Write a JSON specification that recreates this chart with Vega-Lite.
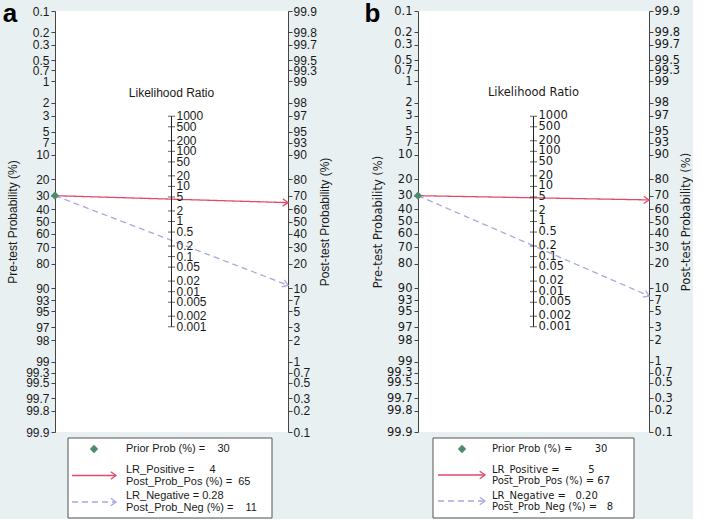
{
  "$schema": "https://vega.github.io/schema/vega-lite/v6.json",
  "background": "#e9f0f2",
  "padding": {"left": 2, "top": 1, "right": 0, "bottom": 0},
  "config": {"view": {"stroke": null, "fill": "white"}, "axis": {"grid": false}},
  "datasets": {
    "lines": [
      {"panel": "a", "series": "pos", "side": "pre", "prob": 30},
      {"panel": "a", "series": "pos", "side": "post", "prob": 65},
      {"panel": "a", "series": "neg", "side": "pre", "prob": 30},
      {"panel": "a", "series": "neg", "side": "post", "prob": 11},
      {"panel": "b", "series": "pos", "side": "pre", "prob": 30},
      {"panel": "b", "series": "pos", "side": "post", "prob": 67},
      {"panel": "b", "series": "neg", "side": "pre", "prob": 30},
      {"panel": "b", "series": "neg", "side": "post", "prob": 8}
    ],
    "lr": [
      {"lr": 1000}, {"lr": 500}, {"lr": 200}, {"lr": 100}, {"lr": 50}, {"lr": 20}, {"lr": 10}, {"lr": 5}, {"lr": 2}, {"lr": 1},
      {"lr": 0.5}, {"lr": 0.2}, {"lr": 0.1}, {"lr": 0.05}, {"lr": 0.02}, {"lr": 0.01}, {"lr": 0.005}, {"lr": 0.002}, {"lr": 0.001}
    ],
    "legend": [
      {"panel": "a", "item": "prior", "label": "Prior Prob (%) =\u00a0\u00a0\u00a0\u00a030"},
      {"panel": "a", "item": "pos", "label": "LR_Positive =\u00a0\u00a0\u00a0\u00a0\u00a04\nPost_Prob_Pos (%) =\u00a0\u00a065"},
      {"panel": "a", "item": "neg", "label": "LR_Negative =\u00a00.28\nPost_Prob_Neg (%) =\u00a0\u00a0\u00a0\u00a011"},
      {"panel": "b", "item": "prior", "label": "Prior Prob (%) =\u00a0\u00a0\u00a0\u00a0\u00a0\u00a0\u00a030"},
      {"panel": "b", "item": "pos", "label": "LR_Positive =\u00a0\u00a0\u00a0\u00a0\u00a0\u00a0\u00a0\u00a0\u00a05\nPost_Prob_Pos (%) =\u00a067"},
      {"panel": "b", "item": "neg", "label": "LR_Negative =\u00a0\u00a0\u00a00.20\nPost_Prob_Neg (%) =\u00a0\u00a0\u00a08"}
    ]
  },
  "spacing": 33,
  "hconcat": [
    {
      "spacing": -1,
      "vconcat": [
        {
          "width": 233,
          "height": 421,
          "title": {"text": "a", "anchor": "start", "frame": "bounds", "font": "Liberation Sans", "fontSize": 26, "fontWeight": "bold", "color": "#000", "offset": -10, "baseline": "alphabetic", "dx": -4, "dy": 33},
          "resolve": {"scale": {"y": "independent"}},
          "layer": [
            {
              "data": {"name": "lines"},
              "transform": [
                {"filter": "datum.panel === 'a'"},
                {"calculate": "datum.side === 'pre' ? log((100 - datum.prob) / datum.prob) : log(datum.prob / (100 - datum.prob))", "as": "v"}
              ],
              "encoding": {
                "x": {"field": "side", "type": "nominal", "scale": {"type": "point", "domain": ["pre", "LR", "post"], "padding": 0}, "axis": null},
                "y": {"field": "v", "type": "quantitative", "scale": {"domain": [-6.9068, 6.9068], "nice": false, "zero": false},
                  "axis": {"orient": "left", "values": [6.9068, 6.2126, 5.8061, 5.2933, 4.9548, 4.5951, 3.8918, 3.4761, 2.9444, 2.5867, 2.1972, 1.3863, 0.8473, 0.4055, 0, -0.4055, -0.8473, -1.3863, -2.1972, -2.5867, -2.9444, -3.4761, -3.8918, -4.5951, -4.9548, -5.2933, -5.8061, -6.2126, -6.9068],
                    "labelExpr": "format(100 / (1 + exp(datum.value)), '.1~f')",
                    "title": "Pre-test Probability (%)", "titleFont": "Liberation Sans", "titleFontSize": 12, "titleFontWeight": "normal", "titleColor": "#1a1a1a", "titlePadding": 6,
                    "labelFont": "Liberation Sans", "labelFontSize": 12, "labelColor": "#1a1a1a", "labelOverlap": false, "labelBound": false, "labelFlush": false, "labelPadding": 2,
                    "tickSize": 4, "tickColor": "#444", "domainColor": "#444"}}
              },
              "layer": [
                {"mark": {"type": "line", "strokeWidth": 1.3},
                  "encoding": {
                    "color": {"field": "series", "type": "nominal", "scale": {"domain": ["pos", "neg"], "range": ["#e34a6a", "#a9a6e0"]}, "legend": null},
                    "strokeDash": {"field": "series", "type": "nominal", "scale": {"domain": ["pos", "neg"], "range": [[1, 0], [6, 4]]}, "legend": null}
                  }},
                {"transform": [{"filter": "datum.series === 'pos' && datum.side === 'pre'"}],
                  "mark": {"type": "point", "shape": "diamond", "filled": true, "size": 70, "color": "#4d8a6c", "opacity": 1}}
              ]
            },
            {
              "data": {"name": "lines"},
              "transform": [
                {"filter": "datum.panel === 'a' && datum.side === 'post'"},
                {"calculate": "log(datum.prob / (100 - datum.prob))", "as": "v"}
              ],
              "encoding": {
                "x": {"field": "side", "type": "nominal", "scale": {"type": "point", "domain": ["pre", "LR", "post"], "padding": 0}, "axis": null},
                "y": {"field": "v", "type": "quantitative", "scale": {"domain": [-6.9068, 6.9068], "nice": false, "zero": false},
                  "axis": {"orient": "right", "values": [6.9068, 6.2126, 5.8061, 5.2933, 4.9548, 4.5951, 3.8918, 3.4761, 2.9444, 2.5867, 2.1972, 1.3863, 0.8473, 0.4055, 0, -0.4055, -0.8473, -1.3863, -2.1972, -2.5867, -2.9444, -3.4761, -3.8918, -4.5951, -4.9548, -5.2933, -5.8061, -6.2126, -6.9068],
                    "labelExpr": "format(100 / (1 + exp(-datum.value)), '.1~f')",
                    "title": "Post-test Probability (%)", "titleAngle": 270, "titleFont": "Liberation Sans", "titleFontSize": 12, "titleFontWeight": "normal", "titleColor": "#1a1a1a", "titlePadding": 15,
                    "labelFont": "Liberation Sans", "labelFontSize": 12, "labelColor": "#1a1a1a", "labelOverlap": false, "labelBound": false, "labelFlush": false, "labelPadding": 1,
                    "tickSize": 4, "tickColor": "#444", "domainColor": "#444"}}
              },
              "layer": [
                {"transform": [{"filter": "datum.series === 'pos'"}],
                  "mark": {"type": "point", "shape": "M-1,-0.7L0,0L-1,0.7", "filled": false, "size": 110, "strokeWidth": 1.3, "color": "#e34a6a", "angle": 1.7, "opacity": 1}},
                {"transform": [{"filter": "datum.series === 'neg'"}],
                  "mark": {"type": "point", "shape": "M-1,-0.7L0,0L-1,0.7", "filled": false, "size": 110, "strokeWidth": 1.3, "color": "#a9a6e0", "angle": 21, "opacity": 1}}
              ]
            },
            {
              "data": {"name": "lr"},
              "encoding": {
                "x": {"datum": "LR", "type": "nominal", "scale": {"type": "point", "domain": ["pre", "LR", "post"], "padding": 0}, "axis": null},
                "y": {"field": "lr", "type": "quantitative", "scale": {"type": "log", "domain": [0.000001002, 998000], "nice": false}, "axis": null}
              },
              "layer": [
                {"mark": {"type": "rule", "color": "#222", "strokeWidth": 1},
                  "encoding": {"y": {"aggregate": "min", "field": "lr", "type": "quantitative"}, "y2": {"aggregate": "max", "field": "lr"}}},
                {"mark": {"type": "tick", "orient": "horizontal", "size": 7, "thickness": 1, "color": "#222"}},
                {"mark": {"type": "text", "align": "left", "baseline": "middle", "dx": 5, "font": "Liberation Sans", "fontSize": 12, "color": "#1a1a1a"},
                  "encoding": {"text": {"field": "lr", "type": "quantitative", "format": "~g"}}},
                {"mark": {"type": "text", "align": "center", "baseline": "middle", "dy": -23, "font": "Liberation Sans", "fontSize": 12, "color": "#1a1a1a", "text": "Likelihood Ratio"},
                  "encoding": {"y": {"aggregate": "max", "field": "lr", "type": "quantitative"}}}
              ]
            }
          ]
        },
        {
          "width": 217,
          "height": 80,
          "view": {"stroke": null, "fill": "transparent"},
          "data": {"name": "legend"},
          "transform": [{"filter": "datum.panel === 'a'"}],
          "encoding": {
            "x": {"datum": "sym", "type": "nominal", "scale": {"type": "point", "domain": ["sym", "text"], "range": [39, 71], "padding": 0}, "axis": null},
            "y": {"field": "item", "type": "nominal", "scale": {"type": "point", "domain": ["prior", "pos", "neg"], "range": [11, 64], "padding": 0}, "axis": null}
          },
          "layer": [
            {"transform": [{"filter": "datum.item === 'prior'"}],
              "mark": {"type": "rect", "fill": "white", "stroke": "#555", "strokeWidth": 1, "xOffset": -26, "x2Offset": 178, "yOffset": -11, "y2Offset": 16},
              "encoding": {"x2": {"datum": "sym"}, "y2": {"datum": "neg"}}},
            {"transform": [{"filter": "datum.item === 'prior'"}],
              "mark": {"type": "text", "align": "left", "baseline": "middle", "font": "Liberation Sans", "fontSize": 11, "color": "#1a1a1a"},
              "encoding": {"x": {"datum": "text", "type": "nominal"}, "text": {"field": "label", "type": "nominal"}}},
            {"transform": [{"filter": "datum.item !== 'prior'"}],
              "mark": {"type": "text", "align": "left", "baseline": "middle", "lineBreak": "\n", "lineHeight": 12, "dy": -6, "font": "Liberation Sans", "fontSize": 11, "color": "#1a1a1a"},
              "encoding": {"x": {"datum": "text", "type": "nominal"}, "text": {"field": "label", "type": "nominal"}}},
            {"transform": [{"filter": "datum.item === 'prior'"}],
              "mark": {"type": "point", "shape": "diamond", "filled": true, "size": 70, "color": "#4d8a6c", "opacity": 1}},
            {"transform": [{"filter": "datum.item !== 'prior'"}],
              "mark": {"type": "rule", "strokeWidth": 1.3, "xOffset": -22, "x2Offset": 22},
              "encoding": {
                "x2": {"datum": "sym"},
                "color": {"field": "item", "type": "nominal", "scale": {"domain": ["pos", "neg"], "range": ["#e34a6a", "#a9a6e0"]}, "legend": null},
                "strokeDash": {"field": "item", "type": "nominal", "scale": {"domain": ["pos", "neg"], "range": [[1, 0], [6, 4]]}, "legend": null}
              }},
            {"transform": [{"filter": "datum.item !== 'prior'"}],
              "mark": {"type": "point", "shape": "M-1,-0.7L0,0L-1,0.7", "filled": false, "size": 110, "strokeWidth": 1.3, "xOffset": 22, "opacity": 1},
              "encoding": {
                "color": {"field": "item", "type": "nominal", "scale": {"domain": ["pos", "neg"], "range": ["#e34a6a", "#a9a6e0"]}, "legend": null}
              }}
          ]
        }
      ]
    },
    {
      "spacing": -1,
      "vconcat": [
        {
          "width": 231,
          "height": 421,
          "title": {"text": "b", "anchor": "start", "frame": "bounds", "font": "Liberation Sans", "fontSize": 26, "fontWeight": "bold", "color": "#000", "offset": -10, "baseline": "alphabetic", "dx": -8, "dy": 33},
          "resolve": {"scale": {"y": "independent"}},
          "layer": [
            {
              "data": {"name": "lines"},
              "transform": [
                {"filter": "datum.panel === 'b'"},
                {"calculate": "datum.side === 'pre' ? log((100 - datum.prob) / datum.prob) : log(datum.prob / (100 - datum.prob))", "as": "v"}
              ],
              "encoding": {
                "x": {"field": "side", "type": "nominal", "scale": {"type": "point", "domain": ["pre", "LR", "post"], "padding": 0}, "axis": null},
                "y": {"field": "v", "type": "quantitative", "scale": {"domain": [-6.9068, 6.9068], "nice": false, "zero": false},
                  "axis": {"orient": "left", "values": [6.9068, 6.2126, 5.8061, 5.2933, 4.9548, 4.5951, 3.8918, 3.4761, 2.9444, 2.5867, 2.1972, 1.3863, 0.8473, 0.4055, 0, -0.4055, -0.8473, -1.3863, -2.1972, -2.5867, -2.9444, -3.4761, -3.8918, -4.5951, -4.9548, -5.2933, -5.8061, -6.2126, -6.9068],
                    "labelExpr": "format(100 / (1 + exp(datum.value)), '.1~f')",
                    "title": "Pre-test Probability (%)", "titleFont": "DejaVu Sans", "titleFontSize": 11.5, "titleFontWeight": "normal", "titleColor": "#1a1a1a", "titlePadding": 3,
                    "labelFont": "DejaVu Sans", "labelFontSize": 11.5, "labelColor": "#1a1a1a", "labelOverlap": false, "labelBound": false, "labelFlush": false, "labelPadding": 2,
                    "tickSize": 4, "tickColor": "#444", "domainColor": "#444"}}
              },
              "layer": [
                {"mark": {"type": "line", "strokeWidth": 1.3},
                  "encoding": {
                    "color": {"field": "series", "type": "nominal", "scale": {"domain": ["pos", "neg"], "range": ["#e34a6a", "#a9a6e0"]}, "legend": null},
                    "strokeDash": {"field": "series", "type": "nominal", "scale": {"domain": ["pos", "neg"], "range": [[1, 0], [6, 4]]}, "legend": null}
                  }},
                {"transform": [{"filter": "datum.series === 'pos' && datum.side === 'pre'"}],
                  "mark": {"type": "point", "shape": "diamond", "filled": true, "size": 70, "color": "#4d8a6c", "opacity": 1}}
              ]
            },
            {
              "data": {"name": "lines"},
              "transform": [
                {"filter": "datum.panel === 'b' && datum.side === 'post'"},
                {"calculate": "log(datum.prob / (100 - datum.prob))", "as": "v"}
              ],
              "encoding": {
                "x": {"field": "side", "type": "nominal", "scale": {"type": "point", "domain": ["pre", "LR", "post"], "padding": 0}, "axis": null},
                "y": {"field": "v", "type": "quantitative", "scale": {"domain": [-6.9068, 6.9068], "nice": false, "zero": false},
                  "axis": {"orient": "right", "values": [6.9068, 6.2126, 5.8061, 5.2933, 4.9548, 4.5951, 3.8918, 3.4761, 2.9444, 2.5867, 2.1972, 1.3863, 0.8473, 0.4055, 0, -0.4055, -0.8473, -1.3863, -2.1972, -2.5867, -2.9444, -3.4761, -3.8918, -4.5951, -4.9548, -5.2933, -5.8061, -6.2126, -6.9068],
                    "labelExpr": "format(100 / (1 + exp(-datum.value)), '.1~f')",
                    "title": "Post-test Probability (%)", "titleAngle": 270, "titleFont": "DejaVu Sans", "titleFontSize": 11.5, "titleFontWeight": "normal", "titleColor": "#1a1a1a", "titlePadding": 12,
                    "labelFont": "DejaVu Sans", "labelFontSize": 11.5, "labelColor": "#1a1a1a", "labelOverlap": false, "labelBound": false, "labelFlush": false, "labelPadding": 1,
                    "tickSize": 4, "tickColor": "#444", "domainColor": "#444"}}
              },
              "layer": [
                {"transform": [{"filter": "datum.series === 'pos'"}],
                  "mark": {"type": "point", "shape": "M-1,-0.7L0,0L-1,0.7", "filled": false, "size": 110, "strokeWidth": 1.3, "color": "#e34a6a", "angle": 1, "opacity": 1}},
                {"transform": [{"filter": "datum.series === 'neg'"}],
                  "mark": {"type": "point", "shape": "M-1,-0.7L0,0L-1,0.7", "filled": false, "size": 110, "strokeWidth": 1.3, "color": "#a9a6e0", "angle": 23.4, "opacity": 1}}
              ]
            },
            {
              "data": {"name": "lr"},
              "encoding": {
                "x": {"datum": "LR", "type": "nominal", "scale": {"type": "point", "domain": ["pre", "LR", "post"], "padding": 0}, "axis": null},
                "y": {"field": "lr", "type": "quantitative", "scale": {"type": "log", "domain": [0.000001002, 998000], "nice": false}, "axis": null}
              },
              "layer": [
                {"mark": {"type": "rule", "color": "#222", "strokeWidth": 1},
                  "encoding": {"y": {"aggregate": "min", "field": "lr", "type": "quantitative"}, "y2": {"aggregate": "max", "field": "lr"}}},
                {"mark": {"type": "tick", "orient": "horizontal", "size": 7, "thickness": 1, "color": "#222"}},
                {"mark": {"type": "text", "align": "left", "baseline": "middle", "dx": 5, "font": "DejaVu Sans", "fontSize": 11.5, "color": "#1a1a1a"},
                  "encoding": {"text": {"field": "lr", "type": "quantitative", "format": "~g"}}},
                {"mark": {"type": "text", "align": "center", "baseline": "middle", "dy": -23, "font": "DejaVu Sans", "fontSize": 11.5, "color": "#1a1a1a", "text": "Likelihood Ratio"},
                  "encoding": {"y": {"aggregate": "max", "field": "lr", "type": "quantitative"}}}
              ]
            }
          ]
        },
        {
          "width": 216,
          "height": 80,
          "view": {"stroke": null, "fill": "transparent"},
          "data": {"name": "legend"},
          "transform": [{"filter": "datum.panel === 'b'"}],
          "encoding": {
            "x": {"datum": "sym", "type": "nominal", "scale": {"type": "point", "domain": ["sym", "text"], "range": [44, 74], "padding": 0}, "axis": null},
            "y": {"field": "item", "type": "nominal", "scale": {"type": "point", "domain": ["prior", "pos", "neg"], "range": [11, 63], "padding": 0}, "axis": null}
          },
          "layer": [
            {"transform": [{"filter": "datum.item === 'prior'"}],
              "mark": {"type": "rect", "fill": "white", "stroke": "#555", "strokeWidth": 1, "xOffset": -29, "x2Offset": 172, "yOffset": -11, "y2Offset": 17},
              "encoding": {"x2": {"datum": "sym"}, "y2": {"datum": "neg"}}},
            {"transform": [{"filter": "datum.item === 'prior'"}],
              "mark": {"type": "text", "align": "left", "baseline": "middle", "font": "DejaVu Sans", "fontSize": 10, "color": "#1a1a1a"},
              "encoding": {"x": {"datum": "text", "type": "nominal"}, "text": {"field": "label", "type": "nominal"}}},
            {"transform": [{"filter": "datum.item !== 'prior'"}],
              "mark": {"type": "text", "align": "left", "baseline": "middle", "lineBreak": "\n", "lineHeight": 11, "dy": -5.5, "font": "DejaVu Sans", "fontSize": 10, "color": "#1a1a1a"},
              "encoding": {"x": {"datum": "text", "type": "nominal"}, "text": {"field": "label", "type": "nominal"}}},
            {"transform": [{"filter": "datum.item === 'prior'"}],
              "mark": {"type": "point", "shape": "diamond", "filled": true, "size": 70, "color": "#4d8a6c", "opacity": 1}},
            {"transform": [{"filter": "datum.item !== 'prior'"}],
              "mark": {"type": "rule", "strokeWidth": 1.3, "xOffset": -24, "x2Offset": 23},
              "encoding": {
                "x2": {"datum": "sym"},
                "color": {"field": "item", "type": "nominal", "scale": {"domain": ["pos", "neg"], "range": ["#e34a6a", "#a9a6e0"]}, "legend": null},
                "strokeDash": {"field": "item", "type": "nominal", "scale": {"domain": ["pos", "neg"], "range": [[1, 0], [6, 4]]}, "legend": null}
              }},
            {"transform": [{"filter": "datum.item !== 'prior'"}],
              "mark": {"type": "point", "shape": "M-1,-0.7L0,0L-1,0.7", "filled": false, "size": 110, "strokeWidth": 1.3, "xOffset": 23, "opacity": 1},
              "encoding": {
                "color": {"field": "item", "type": "nominal", "scale": {"domain": ["pos", "neg"], "range": ["#e34a6a", "#a9a6e0"]}, "legend": null}
              }}
          ]
        }
      ]
    }
  ]
}
